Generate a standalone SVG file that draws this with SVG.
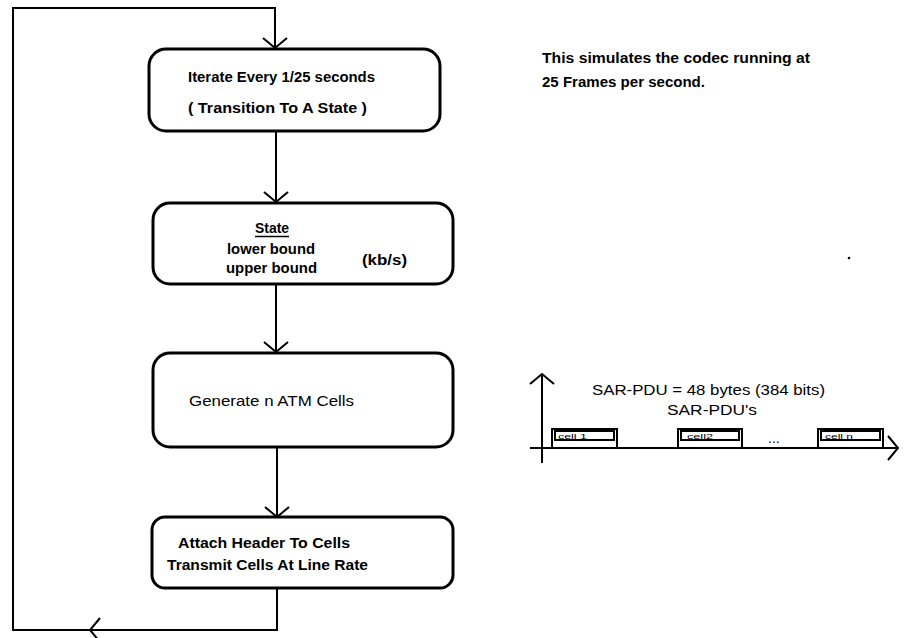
<svg xmlns="http://www.w3.org/2000/svg" width="905" height="638" viewBox="0 0 905 638">
<style>
.box{fill:#fff;stroke:#000;stroke-width:3}
.ln{fill:none;stroke:#000;stroke-width:2}
.t{font-family:"Liberation Sans",Arial,sans-serif;font-size:14px;font-weight:bold;fill:#000}
.r{font-family:"Liberation Sans",Arial,sans-serif;font-size:14px;fill:#000}
.s{font-family:"Liberation Sans",Arial,sans-serif;font-size:8px;fill:#000}
.cell{fill:#fff;stroke:#000;stroke-width:2}
</style>
<defs>
<marker id="v" markerUnits="userSpaceOnUse" markerWidth="30" markerHeight="30" viewBox="-15 -15 30 30" refX="0" refY="0" orient="auto" overflow="visible">
<path d="M-10,-12 L0,0 L-10,12" fill="none" stroke="#000" stroke-width="2"/>
</marker>
</defs>
<g id="connectors">
<path class="ln" d="M275,8 V48" marker-end="url(#v)"/>
<path class="ln" d="M90,630 H13 V8 H276"/>
<path class="ln" d="M276,131 V202" marker-end="url(#v)"/>
<path class="ln" d="M276,284 V352" marker-end="url(#v)"/>
<path class="ln" d="M277,447 V517" marker-end="url(#v)"/>
<path class="ln" d="M277,588 V630 H90" marker-end="url(#v)"/>
</g>
<g id="iterate">
<rect class="box" x="149" y="49" width="291" height="82" rx="17"/>
<text class="t" x="188" y="82" textLength="187" lengthAdjust="spacingAndGlyphs">Iterate Every 1/25 seconds</text>
<text class="t" x="188" y="113" textLength="179" lengthAdjust="spacingAndGlyphs">( Transition To A State )</text>
</g>
<g id="state">
<rect class="box" x="153" y="203" width="300" height="81" rx="17"/>
<text class="t" x="255" y="233" textLength="34" lengthAdjust="spacingAndGlyphs">State</text>
<line x1="255" y1="236.5" x2="289" y2="236.5" stroke="#000" stroke-width="1.5"/>
<text class="t" x="227" y="254" textLength="88" lengthAdjust="spacingAndGlyphs">lower bound</text>
<text class="t" x="226" y="273" textLength="91" lengthAdjust="spacingAndGlyphs">upper bound</text>
<text class="t" x="362" y="265" textLength="45" lengthAdjust="spacingAndGlyphs">(kb/s)</text>
</g>
<g id="generate">
<rect class="box" x="153" y="353" width="300" height="94" rx="17"/>
<text class="r" x="189" y="406" textLength="165" lengthAdjust="spacingAndGlyphs">Generate n ATM Cells</text>
</g>
<g id="attach">
<rect class="box" x="152" y="517" width="301" height="71" rx="13"/>
<text class="t" x="178" y="548" textLength="172" lengthAdjust="spacingAndGlyphs">Attach Header To Cells</text>
<text class="t" x="167" y="570" textLength="201" lengthAdjust="spacingAndGlyphs">Transmit Cells At Line Rate</text>
</g>
<g id="note">
<text class="t" x="542" y="63" textLength="268" lengthAdjust="spacingAndGlyphs">This simulates the codec running at</text>
<text class="t" x="542" y="87" textLength="163" lengthAdjust="spacingAndGlyphs">25 Frames per second.</text>
</g>
<circle cx="849" cy="258" r="1.3" fill="#000"/>
<g id="sarpdu">
<path class="ln" d="M542,463 V374" marker-end="url(#v)"/>
<path class="ln" d="M530,448 H898" marker-end="url(#v)"/>
<text class="r" x="592" y="395" textLength="233" lengthAdjust="spacingAndGlyphs">SAR-PDU = 48 bytes (384 bits)</text>
<text class="r" x="667" y="415" textLength="90" lengthAdjust="spacingAndGlyphs">SAR-PDU's</text>
<rect class="cell" x="552" y="429" width="65" height="19"/>
<rect class="cell" x="555" y="431" width="59" height="9"/>
<text class="s" x="558" y="438.5" textLength="29" lengthAdjust="spacingAndGlyphs">cell 1</text>
<rect class="cell" x="678" y="429" width="64" height="19"/>
<rect class="cell" x="681" y="431" width="58" height="9"/>
<text class="s" x="687" y="438.5" textLength="26" lengthAdjust="spacingAndGlyphs">cell2</text>
<text class="r" x="768" y="443">...</text>
<rect class="cell" x="818" y="429" width="65" height="19"/>
<rect class="cell" x="821" y="431" width="59" height="9"/>
<text class="s" x="825" y="438.5" textLength="28" lengthAdjust="spacingAndGlyphs">cell n</text>
</g>
</svg>
